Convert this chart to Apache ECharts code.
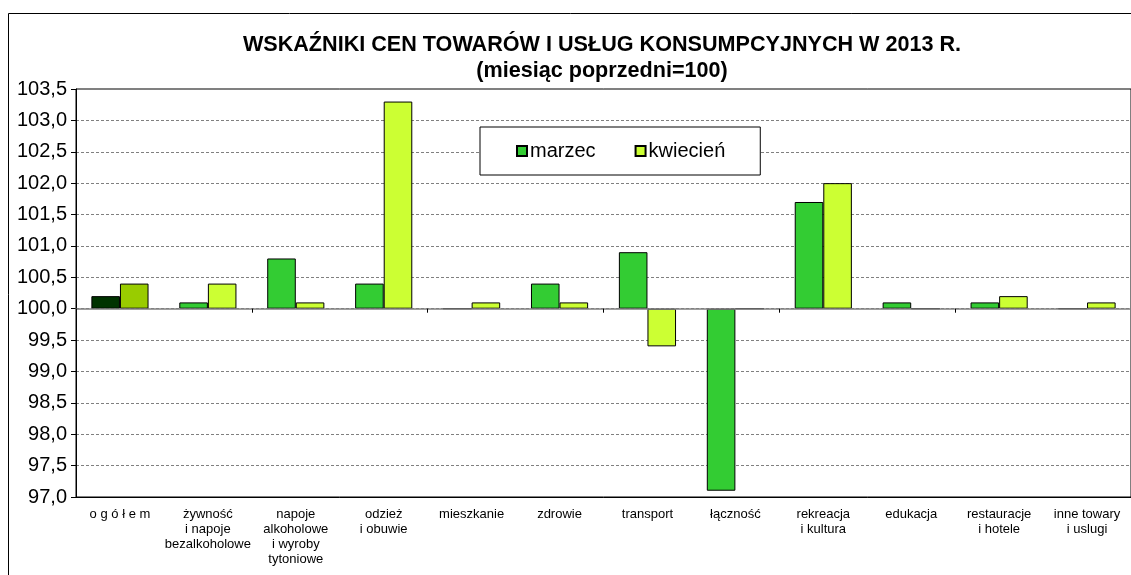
<!DOCTYPE html>
<html>
<head>
<meta charset="utf-8">
<script src="https://cdn.jsdelivr.net/npm/echarts@6/dist/echarts.min.js"></script>
<style>
  html, body { margin: 0; padding: 0; background: #fff; }
  #chart { width: 1131px; height: 575px; }
</style>
</head>
<body>
<div id="chart"></div>
<script>
const categories = [
  'o g ó ł e m', 'żywność\ni napoje\nbezalkoholowe', 'napoje\nalkoholowe\ni wyroby\ntytoniowe',
  'odzież\ni obuwie', 'mieszkanie', 'zdrowie', 'transport', 'łączność',
  'rekreacja\ni kultura', 'edukacja', 'restauracje\ni hotele', 'inne towary\ni uslugi'
]
const marzec = [100.2, 100.1, 100.8, 100.4, 100.0, 100.4, 100.9, 97.1, 101.7, 100.1, 100.1, 100.0]
const kwiecien = [100.4, 100.4, 100.1, 103.3, 100.1, 100.1, 99.4, 100.0, 102.0, 100.0, 100.2, 100.1]
const base = 100

const font = 'Liberation Sans, Arial, sans-serif'

// bars grow from 100, so values are shifted by the base
function toBars(values, firstColor) {
  return values.map((v, i) => {
    const item = { value: +(v - base).toFixed(2) }
    if (i === 0) item.itemStyle = { color: firstColor }
    return item
  })
}

const myChart = echarts.init(document.getElementById('chart'))
const option = {
  animation: false,
  textStyle: { fontFamily: font },
  graphic: [{
    type: 'rect',
    shape: { x: 8.5, y: 13.5, width: 1200, height: 700 },
    style: { fill: 'none', stroke: '#000', lineWidth: 1 },
    z: -10
  }],
  title: {
    text: 'WSKAŹNIKI CEN TOWARÓW I USŁUG KONSUMPCYJNYCH W 2013 R.',
    subtext: '(miesiąc poprzedni=100)',
    left: 597,
    top: 29,
    textAlign: 'center',
    itemGap: 4,
    textStyle: { fontFamily: font, fontSize: 21.6, fontWeight: 'bold', color: '#000' },
    subtextStyle: { fontFamily: font, fontSize: 21.6, fontWeight: 'bold', color: '#000' }
  },
  legend: {
    data: ['marzec', 'kwiecień'],
    left: 480,
    top: 127,
    padding: [14, 35, 14, 36],
    itemGap: 39,
    itemWidth: 10,
    itemHeight: 10,
    icon: 'rect',
    backgroundColor: '#fff',
    borderColor: '#000',
    borderWidth: 1,
    textStyle: { fontFamily: font, fontSize: 20, color: '#000', padding: [0, 0, 0, -2] }
  },
  grid: {
    left: 76, top: 89, right: -9, bottom: 78,
    show: true, borderColor: '#000', borderWidth: 1
  },
  xAxis: [{
    type: 'category',
    data: categories,
    position: 'bottom',
    axisLine: { onZero: true, lineStyle: { color: '#808080', width: 1.5 } },
    axisTick: { show: true, length: 4, lineStyle: { color: '#000' } },
    axisLabel: { show: false },
    splitLine: { show: false },
    z: 5
  }, {
    type: 'category',
    data: categories,
    position: 'bottom',
    axisLine: { onZero: false, show: true, lineStyle: { color: '#000' } },
    axisTick: { show: false },
    axisLabel: {
      interval: 0, margin: 10, fontSize: 13, lineHeight: 15,
      color: '#000', fontFamily: font
    }
  }],
  yAxis: {
    type: 'value',
    min: -3,
    max: 3.5,
    interval: 0.5,
    axisLine: { show: true, lineStyle: { color: '#000' } },
    axisTick: { show: true, length: 5, lineStyle: { color: '#000' } },
    axisLabel: {
      fontSize: 20, color: '#000', margin: 9, fontFamily: font,
      formatter: v => (v + base).toFixed(1).replace('.', ',')
    },
    splitLine: { lineStyle: { color: '#808080', type: [3, 2], width: 1 } }
  },
  series: [{
    name: 'marzec',
    type: 'bar',
    xAxisIndex: 0,
    data: toBars(marzec, '#003300'),
    barGap: '0%',
    barCategoryGap: '35%',
    itemStyle: { color: '#33cc33', borderColor: '#000', borderWidth: 1 }
  }, {
    name: 'kwiecień',
    type: 'bar',
    xAxisIndex: 0,
    data: toBars(kwiecien, '#99cc00'),
    itemStyle: { color: '#ccff33', borderColor: '#000', borderWidth: 1 }
  }]
}
option && myChart.setOption(option)
</script>
</body>
</html>
